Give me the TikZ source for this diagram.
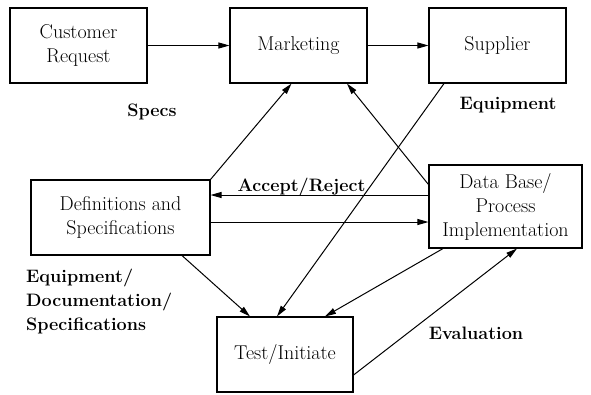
\documentclass[tikz,border=0pt]{standalone}
\usepackage{fontspec}
\usepackage{tikz}
\usetikzlibrary{arrows.meta, calc}

\begin{document}
\begin{tikzpicture}[
  x=1pt, y=-1pt,
  box/.style={rectangle, draw=black, line width=1.1pt, fill=white,
              minimum width=137pt, minimum height=75pt, align=center,
              inner sep=2pt, font=\fontsize{20}{24}\selectfont},
  arr/.style={-{Triangle[length=11pt, width=6pt]}, line width=1pt, black},
  lbl/.style={font=\fontsize{18}{24}\selectfont\bfseries, inner sep=0pt}
]
\useasboundingbox (0,0) rectangle (591,394);

\node[box] (cust) at (78.5, 45.5) {Customer\\Request};
\node[box] (mkt) at (298.5, 45.5) {Marketing};
\node[box] (sup) at (497.5, 45.5) {Supplier};
\node[box, minimum width=179pt] (defs) at (120.5, 217.5) {Definitions and\\Specifications};
\node[box, minimum width=153pt, minimum height=83pt] (db) at (505.5, 206.5)
  {Data Base/\\Process\\Implementation};
\node[box, minimum width=136pt] (test) at (285, 354.5) {Test/Initiate};

\node[lbl] (specs) at (152, 112) {Specs};
\node[lbl] (equip) at (508, 105) {Equipment};
\node[lbl] (accrej) at (301.5, 187) {Accept/Reject};
\node[lbl, anchor=west, align=left] (edoc) at (26, 301)
  {Equipment/\\Documentation/\\Specifications};
\node[lbl] (eval) at (476, 333) {Evaluation};

\draw[arr] (cust) -- (mkt);
\draw[arr] (mkt) -- (sup);
\draw[arr] (defs.north east) -- ([xshift=-7pt]mkt.south);
\draw[arr] ([yshift=22pt]db.west) -- ([xshift=48.5pt]mkt.south);
\draw[arr] ([xshift=-53.5pt]sup.south) -- ([xshift=-8pt]test.north);
\draw[arr] ([yshift=11.5pt]db.west) -- ([yshift=11.5pt]db.west -| defs.east);
\draw[arr] ([yshift=-4.5pt]defs.east) -- ([yshift=-4.5pt]defs.east -| db.west);
\draw[arr] ([xshift=61.5pt]defs.south) -- ([xshift=-35pt]test.north);
\draw[arr] ([xshift=-62.5pt]db.south) -- ([xshift=40pt]test.north);
\draw[arr] ([yshift=-20.5pt]test.east) -- ([xshift=11.5pt]db.south);
\end{tikzpicture}
\end{document}
